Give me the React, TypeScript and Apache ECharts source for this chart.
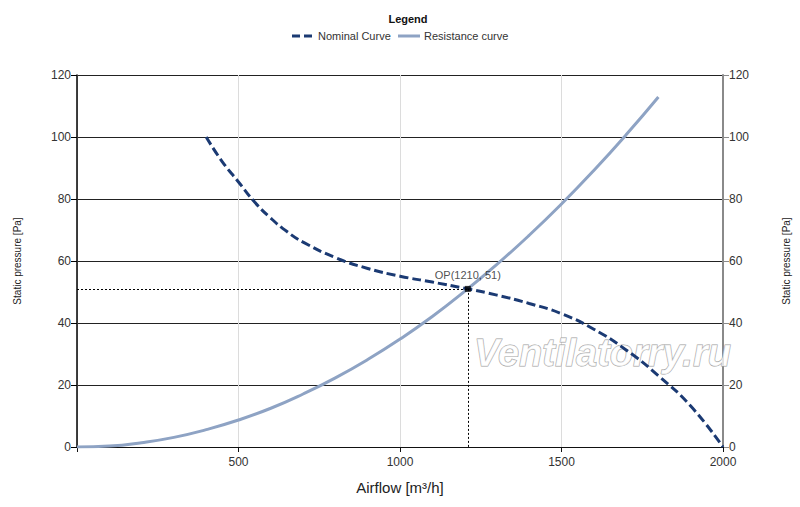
import React, { useEffect, useRef } from "react";
import * as echarts from "echarts";

const nominalFlow = [400, 450, 500, 550, 600, 650, 700, 800, 900, 1000, 1100, 1210, 1300, 1400, 1500, 1600, 1700, 1800, 1900, 2000];
const nominalPressure = [100, 92, 85.5, 79, 73.8, 69.5, 66.1, 61.1, 57.6, 55.1, 53.2, 51, 49, 46.3, 43, 38, 31.3, 23, 13.2, 0];

const resistanceFlow = [0, 100, 200, 300, 400, 500, 600, 700, 800, 900, 1000, 1100, 1200, 1300, 1400, 1500, 1600, 1700, 1800];
const resistancePressure = [0, 0.3, 1.4, 3.1, 5.6, 8.7, 12.5, 17.1, 22.3, 28.2, 34.8, 42.1, 50.2, 58.9, 68.3, 78.4, 89.2, 100.7, 112.9];

const opFlow = 1210;
const opPressure = 51;

const NOMINAL_NAME = "Nominal Curve";
const RESISTANCE_NAME = "Resistance curve";

const FONT = "'Liberation Sans', Arial, sans-serif";
const NOMINAL_COLOR = "#1b3a73";
const RESISTANCE_COLOR = "#8ea3c4";

export default function App() {
  const ref = useRef<HTMLDivElement>(null);
  useEffect(() => {
    if (!ref.current) return;
    const chart = echarts.init(ref.current, null, { renderer: "svg" });
    const yAxisCommon = {
      type: "value",
      min: 0,
      max: 120,
      interval: 20,
      nameLocation: "middle",
      nameTextStyle: { fontSize: 10, color: "#222", fontFamily: FONT },
      axisLabel: { fontSize: 12, color: "#333", fontFamily: FONT, margin: 6 },
    };
    chart.setOption({
      animation: false,
      textStyle: { fontFamily: FONT },
      grid: { left: 77, right: 77, top: 75, bottom: 60 },
      graphic: [
        {
          type: "text",
          x: 408,
          y: 19,
          style: { text: "Legend", fontSize: 11, fontWeight: "bold", fill: "#111", fontFamily: FONT, align: "center", verticalAlign: "middle" },
        },
        {
          type: "line",
          shape: { x1: 292, y1: 36, x2: 314, y2: 36 },
          style: { stroke: NOMINAL_COLOR, lineWidth: 3, lineDash: [8, 4] },
        },
        {
          type: "text",
          x: 318,
          y: 36,
          style: { text: NOMINAL_NAME, fontSize: 11, fill: "#333", fontFamily: FONT, verticalAlign: "middle" },
        },
        {
          type: "line",
          shape: { x1: 398, y1: 36, x2: 420, y2: 36 },
          style: { stroke: RESISTANCE_COLOR, lineWidth: 3 },
        },
        {
          type: "text",
          x: 424,
          y: 36,
          style: { text: RESISTANCE_NAME, fontSize: 11, fill: "#333", fontFamily: FONT, verticalAlign: "middle" },
        },
        {
          type: "text",
          x: 474,
          y: 334,
          z: 1,
          style: {
            text: "Ventilatorry.ru",
            fontSize: 38,
            fontStyle: "italic",
            fontWeight: "bold",
            fontFamily: FONT,
            fill: "rgba(255,255,255,0.75)",
            stroke: "#a0a0a0",
            lineWidth: 1,
          },
        },
      ],
      xAxis: {
        type: "value",
        min: 0,
        max: 2000,
        interval: 500,
        name: "Airflow [m³/h]",
        nameLocation: "middle",
        nameGap: 33,
        nameTextStyle: { fontSize: 15, color: "#222", fontFamily: FONT },
        axisLine: { lineStyle: { color: "#111", width: 1 } },
        axisTick: { show: true, length: 5, lineStyle: { color: "#111" } },
        axisLabel: {
          fontSize: 12,
          color: "#333",
          fontFamily: FONT,
          margin: 9,
          formatter: (v: number) => (v === 0 ? "" : String(v)),
        },
        splitLine: { show: true, lineStyle: { color: "#dcdcdc", width: 1 } },
      },
      yAxis: [
        {
          ...yAxisCommon,
          position: "left",
          name: "Static pressure [Pa]",
          nameGap: 55,
          axisLine: { show: true, lineStyle: { color: "#000", width: 1.5 } },
          axisTick: { show: true, length: 6, lineStyle: { color: "#000" } },
          splitLine: { show: true, lineStyle: { color: "#222", width: 1 } },
        },
        {
          ...yAxisCommon,
          position: "right",
          name: "Static pressure [Pa]",
          nameGap: 58,
          axisLine: { show: true, lineStyle: { color: "#8a8a8a", width: 2 } },
          axisTick: { show: true, length: 6, lineStyle: { color: "#8a8a8a" } },
          splitLine: { show: false },
        },
      ],
      series: [
        {
          name: RESISTANCE_NAME,
          type: "line",
          smooth: true,
          symbol: "none",
          data: resistanceFlow.map((f, i) => [f, resistancePressure[i]]),
          lineStyle: { color: RESISTANCE_COLOR, width: 3 },
          itemStyle: { color: RESISTANCE_COLOR },
          z: 2,
        },
        {
          name: NOMINAL_NAME,
          type: "line",
          smooth: true,
          symbol: "none",
          data: nominalFlow.map((f, i) => [f, nominalPressure[i]]),
          lineStyle: { color: NOMINAL_COLOR, width: 3, type: [9, 4] },
          itemStyle: { color: NOMINAL_COLOR },
          z: 3,
        },
        {
          name: "OP",
          type: "scatter",
          symbol: "rect",
          symbolSize: 6,
          itemStyle: { color: "#000" },
          data: [[opFlow, opPressure]],
          z: 4,
          label: {
            show: true,
            position: "top",
            distance: 5,
            formatter: () => `OP(${opFlow}, ${opPressure})`,
            fontSize: 11,
            color: "#222",
            fontFamily: FONT,
          },
          markLine: {
            silent: true,
            symbol: "none",
            label: { show: false },
            lineStyle: { color: "#000", width: 1, type: [2, 2] },
            data: [
              [{ coord: [0, opPressure] }, { coord: [opFlow, opPressure] }],
              [{ coord: [opFlow, opPressure] }, { coord: [opFlow, 0] }],
            ],
          },
        },
      ],
    });
    return () => chart.dispose();
  }, []);
  return <div ref={ref} style={{ position: "fixed", left: 0, top: 0, width: 800, height: 507, background: "#fff" }} />;
}
